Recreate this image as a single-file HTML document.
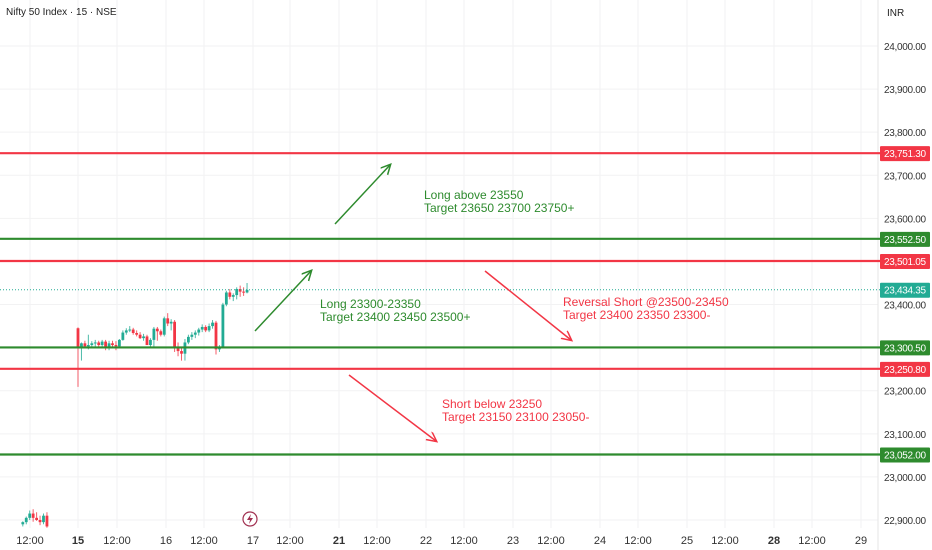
<!DOCTYPE html>
<html><head><meta charset="utf-8"><style>
body{margin:0;background:#fff;font-family:"Liberation Sans",sans-serif}
svg{display:block}
</style></head><body>
<svg id="c" width="932" height="550" xmlns="http://www.w3.org/2000/svg"></svg>
<script>
const yTicks=[24000,23900,23800,23700,23600,23500,23400,23300,23200,23100,23000,22900];
const xLabels=["12:00","15","12:00","16","12:00","17","12:00","21","12:00","22","12:00","23","12:00","24","12:00","25","12:00","28","12:00","29"];
const xBold=["15","21","28"];
const levelPrices=[23751.30,23552.50,23501.05,23300.50,23250.80,23052.00];
const levelKinds=["r","g","r","g","r","g"];
const lastPrice=23434.35;
const barIdx=[-16,-15,-14,-13,-12,-11,-10,-9,
0,1,2,3,4,5,6,7,8,9,10,11,12,13,14,15,16,17,18,19,20,21,22,23,24,
25,26,27,28,29,30,31,32,33,34,35,36,37,38,39,40,41,42,43,44,45,46,47,48,49];
const opens=[22890,22895,22905,22915,22905,22900,22895,22910,
23345,23298,23310,23303,23306,23310,23312,23306,23314,23298,23310,23306,23303,23318,23335,23340,23342,23334,23330,23322,23326,23306,23318,23344,23338,
23330,23368,23356,23360,23300,23292,23286,23312,23325,23330,23335,23342,23348,23340,23350,23358,23296,23302,23400,23428,23418,23422,23436,23430,23428];
const highs=[22897,22908,22922,22925,22918,22910,22915,22918,
23347,23312,23316,23330,23315,23318,23316,23318,23318,23316,23316,23315,23320,23340,23345,23350,23346,23340,23336,23332,23330,23322,23348,23348,23342,
23372,23380,23366,23364,23312,23298,23320,23330,23336,23340,23346,23354,23352,23356,23364,23362,23306,23404,23432,23436,23426,23440,23444,23440,23450];
const lows=[22885,22890,22900,22896,22898,22888,22890,22882,
23209,23270,23300,23296,23298,23302,23300,23300,23294,23294,23300,23294,23300,23316,23330,23336,23330,23326,23320,23316,23312,23300,23302,23316,23326,
23326,23350,23340,23290,23280,23270,23270,23308,23318,23322,23328,23336,23336,23336,23344,23284,23290,23300,23396,23412,23408,23412,23418,23420,23426];
const closes=[22895,22905,22915,22905,22900,22895,22910,22885,
23298,23310,23303,23306,23310,23312,23306,23314,23298,23310,23306,23303,23318,23335,23340,23342,23334,23330,23322,23326,23306,23318,23344,23338,23330,
23368,23356,23360,23300,23292,23286,23312,23325,23330,23335,23342,23348,23340,23350,23358,23296,23302,23400,23428,23418,23422,23436,23430,23428,23434];
const NS="http://www.w3.org/2000/svg";
const svg=document.getElementById('c');
const Y=p=>46+(24000-p)*474/1100;
const X=i=>78+i*3.45;
const RED="#f23645",GRN="#2e8b2e",TEAL="#22ab94";
function el(t,a,p){const e=document.createElementNS(NS,t);for(const k in a)e.setAttribute(k,a[k]);(p||svg).appendChild(e);return e;}
const xPos=[30,78,117,166,204,253,290,339,377,426,464,513,551,600,638,687,725,774,812,861];
xLabels.forEach((l,i)=>{const g=el('line',{x1:xPos[i],x2:xPos[i],y1:0,y2:528,stroke:'#f2f2f3'});


const t=el('text',{x:xPos[i],y:544,'text-anchor':'middle','font-size':'11',fill:'#333','font-weight':xBold.includes(l)?'bold':'normal'});t.textContent=l;

});
yTicks.forEach(v=>{const g=el('line',{x1:0,x2:878,y1:Y(v),y2:Y(v),stroke:'#f2f2f3'});


const t=el('text',{x:884,y:Y(v)+4,'font-size':'10','textLength':'42',fill:'#333'});t.textContent=v.toLocaleString('en-US',{minimumFractionDigits:2});

});
el('line',{x1:878,x2:878,y1:0,y2:550,stroke:'#e6e6e6'});
barIdx.forEach((b,i)=>{const o=opens[i],c=closes[i],col=c>=o?TEAL:RED,x=X(b);
const w=el('line',{x1:x,x2:x,y1:Y(highs[i]),y2:Y(lows[i]),stroke:col,'stroke-width':1,opacity:0.8});


const r=el('rect',{x:x-1.4,y:Y(Math.max(o,c)),width:2.8,height:Math.max(1,Math.abs(Y(o)-Y(c))),fill:col});

});
levelPrices.forEach((p,i)=>{const col=levelKinds[i]=="r"?RED:GRN;
const l=el('line',{x1:0,x2:880,y1:Y(p),y2:Y(p),stroke:col,'stroke-width':2.2});


const r=el('rect',{x:880,y:Y(p)-7,width:50,height:15,fill:col,rx:1});


const t=el('text',{x:884,y:Y(p)+4,'font-size':'10','textLength':'42',fill:'#fff'});t.textContent=p.toLocaleString('en-US',{minimumFractionDigits:2});

});
const ll=el('line',{x1:0,x2:880,y1:Y(lastPrice),y2:Y(lastPrice),stroke:TEAL,'stroke-width':1,'stroke-dasharray':'1 2'});


const lr=el('rect',{x:880,y:Y(lastPrice)-7,width:50,height:15,fill:TEAL,rx:1});


const lt=el('text',{x:884,y:Y(lastPrice)+4,'font-size':'10','textLength':'42',fill:'#fff'});lt.textContent=lastPrice.toLocaleString('en-US',{minimumFractionDigits:2});


</script>
<svg style="position:absolute;left:0;top:0" width="932" height="550" xmlns="http://www.w3.org/2000/svg">
<defs>
<marker id="ag" markerWidth="12" markerHeight="12" refX="9" refY="5" orient="auto" markerUnits="userSpaceOnUse"><path d="M0,0 L10,5 L0,10" fill="none" stroke="#2e8b2e" stroke-width="1.5"/></marker>
<marker id="ar" markerWidth="12" markerHeight="12" refX="9" refY="5" orient="auto" markerUnits="userSpaceOnUse"><path d="M0,0 L10,5 L0,10" fill="none" stroke="#f23645" stroke-width="1.5"/></marker>
</defs>
<line x1="335" y1="224" x2="390" y2="165" stroke="#2e8b2e" stroke-width="1.5" marker-end="url(#ag)"/>
<line x1="255" y1="331" x2="311" y2="271" stroke="#2e8b2e" stroke-width="1.5" marker-end="url(#ag)"/>
<line x1="485" y1="271" x2="571" y2="340" stroke="#f23645" stroke-width="1.5" marker-end="url(#ar)"/>
<line x1="349" y1="375" x2="436" y2="441" stroke="#f23645" stroke-width="1.5" marker-end="url(#ar)"/>
<g font-size="12" font-family="Liberation Sans,sans-serif">
<text x="424" y="199" fill="#2e8b2e">Long above 23550</text>
<text x="424" y="212" fill="#2e8b2e">Target 23650 23700 23750+</text>
<text x="320" y="308" fill="#2e8b2e">Long 23300-23350</text>
<text x="320" y="321" fill="#2e8b2e">Target 23400 23450 23500+</text>
<text x="563" y="306" fill="#f23645">Reversal Short @23500-23450</text>
<text x="563" y="319" fill="#f23645">Target 23400 23350 23300-</text>
<text x="442" y="408" fill="#f23645">Short below 23250</text>
<text x="442" y="421" fill="#f23645">Target 23150 23100 23050-</text>
</g>
<text x="6" y="15" font-size="10" fill="#222" font-family="Liberation Sans,sans-serif">Nifty 50 Index · 15 · NSE</text>
<text x="887" y="16" font-size="10" fill="#222" font-family="Liberation Sans,sans-serif">INR</text>
<g>
<circle cx="250" cy="519" r="7" fill="#fff" stroke="#a03050" stroke-width="1.2"/>
<path d="M251,514 L247,520 L250,520 L249,524 L253,518 L250,518 Z" fill="#a03050"/>
</g>
</svg>
</body></html>
